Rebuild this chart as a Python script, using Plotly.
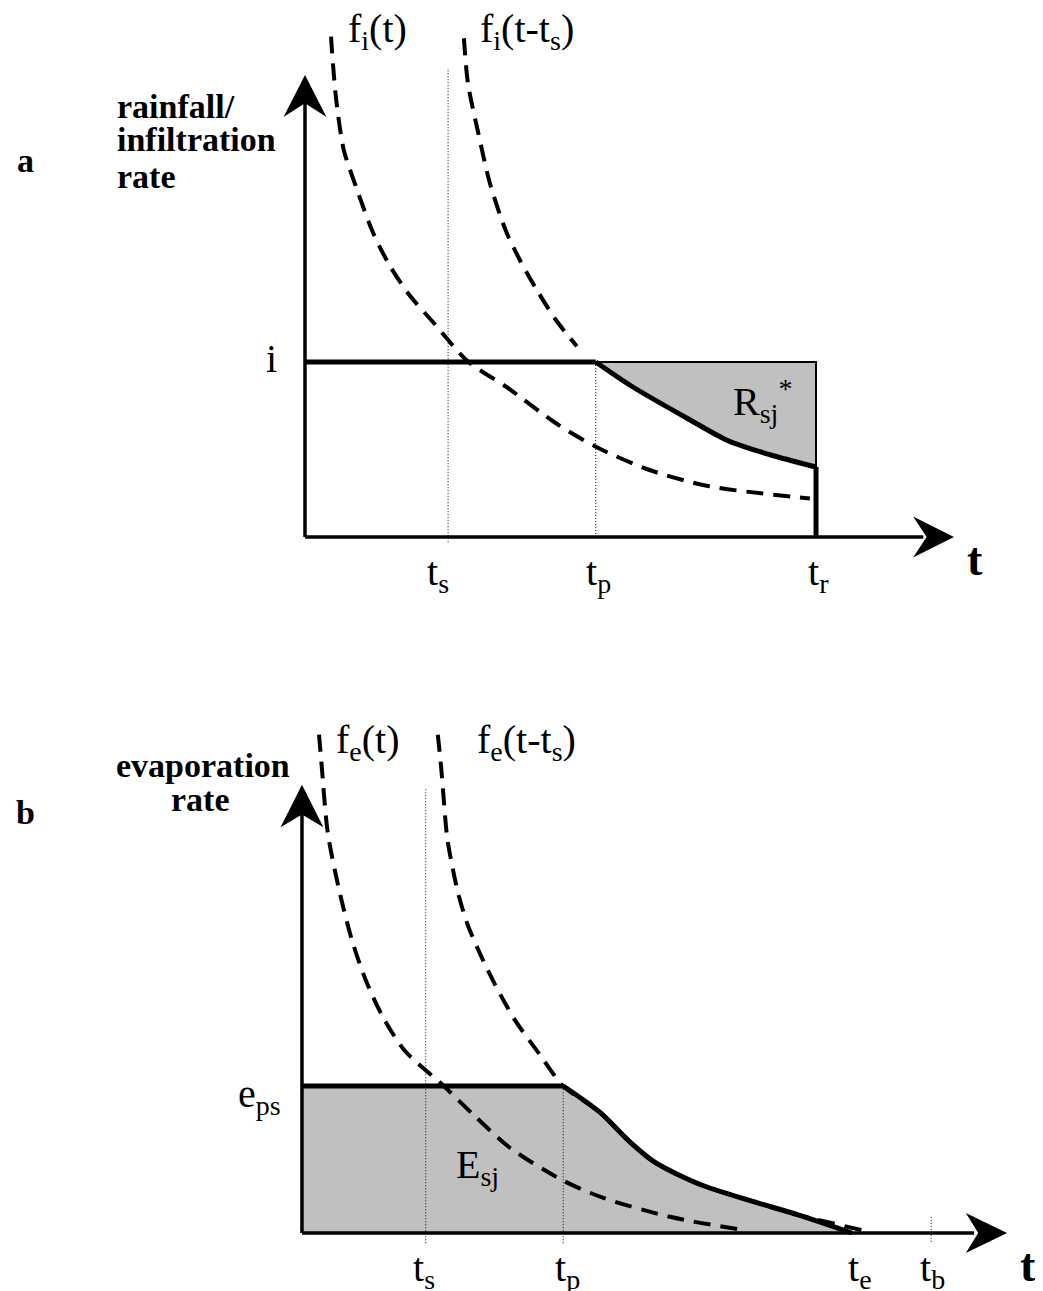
import plotly.graph_objects as go

# ---------------- Panel a : rainfall / infiltration rate ----------------
A_TICK_NAMES = ["t<sub>s</sub>", "t<sub>p</sub>", "t<sub>r</sub>"]
A_TICK_VALUES = [2.80, 5.69, 10.0]          # t_s, t_p, t_r
I_RATE = 1.0                                 # rainfall intensity i
# f_i(t) infiltration capacity curve
FI_T = [0.51, 0.53, 0.61, 0.76, 1.00, 1.33, 1.66, 2.05, 2.50, 3.20, 3.93, 4.91, 5.73, 6.77, 7.91, 9.88]
FI_R = [2.86, 2.77, 2.50, 2.21, 2.00, 1.74, 1.55, 1.38, 1.23, 1.00, 0.86, 0.65, 0.51, 0.38, 0.29, 0.22]
# f_i(t - t_s) shifted curve (drawn until ponding)
FIS_T = [3.11, 3.19, 3.39, 3.62, 3.93, 4.21, 4.54, 4.91, 5.32]
FIS_R = [2.85, 2.59, 2.31, 2.02, 1.75, 1.58, 1.41, 1.24, 1.09]
# actual infiltration after ponding (t_p -> t_r)
INF_T = [5.69, 6.40, 7.53, 8.28, 9.10, 10.0]
INF_R = [1.00, 0.86, 0.67, 0.55, 0.47, 0.40]
A_AXIS_X_END = 12.70
A_AXIS_Y_END = 2.64

# ---------------- Panel b : evaporation rate ----------------
B_TICK_NAMES = ["t<sub>s</sub>", "t<sub>p</sub>", "t<sub>e</sub>", "t<sub>b</sub>"]
B_TICK_VALUES = [2.25, 4.75, 10.0, 11.44]    # t_s, t_p, t_e, t_b
E_PS = 1.0
FE_T = [0.31, 0.36, 0.47, 0.69, 0.91, 1.16, 1.47, 1.87, 2.55, 3.13, 3.78, 4.73, 5.47, 6.69, 8.02]
FE_R = [3.39, 3.17, 2.72, 2.31, 1.99, 1.72, 1.47, 1.24, 1.01, 0.80, 0.58, 0.36, 0.24, 0.11, 0.02]
FES_T = [2.47, 2.53, 2.64, 2.73, 2.84, 3.00, 3.20, 3.51, 3.87, 4.33, 4.75, 5.42, 5.96, 6.42, 7.24, 8.15, 9.05, 10.18]
FES_R = [3.39, 3.17, 2.69, 2.50, 2.31, 2.11, 1.93, 1.69, 1.45, 1.21, 1.00, 0.82, 0.62, 0.48, 0.33, 0.22, 0.12, 0.02]
EV_T = [4.75, 5.42, 5.96, 6.42, 7.24, 8.15, 9.05, 10.0]
EV_R = [1.00, 0.82, 0.62, 0.48, 0.33, 0.22, 0.12, 0.0]
B_AXIS_X_END = 12.82
B_AXIS_Y_END = 3.05

SERIF = "Liberation Serif, Times New Roman, Times, Nimbus Roman, serif"
GREY = "#c0c0c0"
BLACK = "#000000"

fig = go.Figure()


def add_line(xs, ys, ax, width, dash="solid", shape="linear"):
    fig.add_trace(go.Scatter(x=xs, y=ys, mode="lines", xaxis=ax[0], yaxis=ax[1],
                             line=dict(color=BLACK, width=width, dash=dash, shape=shape,
                                       smoothing=0.8),
                             hoverinfo="skip", showlegend=False))


def add_poly(xs, ys, ax, color, lw=0, shape="linear"):
    fig.add_trace(go.Scatter(x=xs, y=ys, mode="lines", fill="toself", fillcolor=color,
                             xaxis=ax[0], yaxis=ax[1],
                             line=dict(color=color if lw == 0 else BLACK, width=lw, shape=shape,
                                       smoothing=0.8),
                             hoverinfo="skip", showlegend=False))


def arrows(ax, x_end, y_end, xlen, xhw, ylen, yhw, notch):
    # arrow on the t axis
    add_poly([x_end, x_end - xlen, x_end - xlen * (1 - notch), x_end - xlen, x_end],
             [0, xhw, 0, -xhw, 0], ax, BLACK)
    # arrow on the rate axis
    add_poly([0, yhw, 0, -yhw, 0],
             [y_end, y_end - ylen, y_end - ylen * (1 - notch), y_end - ylen, y_end], ax, BLACK)


DASH = "17px,10px"
DOT = "1px,2px"

# ---------------- panel a ----------------
AX_A = ("x", "y")
ts_a, tp_a, tr_a = A_TICK_VALUES
# shaded excess-rainfall area
add_poly([tp_a, tr_a] + INF_T[::-1], [I_RATE, I_RATE] + INF_R[::-1], AX_A, GREY)
add_line([tp_a, tr_a, tr_a], [I_RATE, I_RATE, INF_R[-1]], AX_A, 2)
# dotted markers
add_line([ts_a, ts_a], [-0.03, 2.68], AX_A, 1, DOT)
add_line([tp_a, tp_a], [0, I_RATE], AX_A, 1, DOT)
# dashed capacity curves
add_line(FI_T, FI_R, AX_A, 4, DASH, "spline")
add_line(FIS_T, FIS_R, AX_A, 4, DASH, "spline")
# infiltration (solid)
add_line([0, tp_a], [I_RATE, I_RATE], AX_A, 5)
add_line(INF_T, INF_R, AX_A, 5, "solid", "spline")
add_line([tr_a, tr_a], [INF_R[-1], 0], AX_A, 5)
# axes
add_line([0, A_AXIS_X_END - 0.6], [0, 0], AX_A, 3.5)
add_line([0, 0], [0, A_AXIS_Y_END - 0.15], AX_A, 3.5)
arrows(AX_A, A_AXIS_X_END, A_AXIS_Y_END, 0.80, 0.117, 0.24, 0.42, 0.33)

# ---------------- panel b ----------------
AX_B = ("x2", "y2")
ts_b, tp_b, te_b, tb_b = B_TICK_VALUES
add_poly([0, 0, tp_b] + EV_T + [0], [0, E_PS, E_PS] + EV_R + [0], AX_B, GREY)
add_line([ts_b, ts_b], [-0.07, 3.03], AX_B, 1, DOT)
add_line([tp_b, tp_b], [-0.07, E_PS], AX_B, 1, DOT)
add_line([tb_b, tb_b], [-0.06, 0.11], AX_B, 1, DOT)
add_line(FE_T, FE_R, AX_B, 4, DASH, "spline")
add_line(FES_T, FES_R, AX_B, 4, DASH, "spline")
add_line([0, tp_b], [E_PS, E_PS], AX_B, 5)
add_line(EV_T, EV_R, AX_B, 5, "solid", "spline")
add_line([0, B_AXIS_X_END - 0.6], [0, 0], AX_B, 3.5)
add_line([0, 0], [0, B_AXIS_Y_END - 0.2], AX_B, 3.5)
arrows(AX_B, B_AXIS_X_END, B_AXIS_Y_END, 0.75, 0.136, 0.29, 0.39, 0.30)

# ---------------- text ----------------
ann = []


def txt(text, x, y, ax, size=40, bold=False, xanchor="center", xshift=0, yshift=0):
    ann.append(dict(text=("<b>%s</b>" % text) if bold else text, x=x, y=y,
                    xref=ax[0], yref=ax[1], showarrow=False, xanchor=xanchor, yanchor="middle",
                    xshift=xshift, yshift=yshift,
                    font=dict(family=SERIF, size=size, color=BLACK)))


# panel a texts
txt("a", -5.46, 2.15, AX_A, 34, True)
txt("rainfall/", -3.72, 2.46, AX_A, 34, True, "left")
txt("infiltration", -3.72, 2.27, AX_A, 34, True, "left")
txt("rate", -3.72, 2.06, AX_A, 34, True, "left")
txt("f<sub>i</sub>(t)", 1.41, 2.89, AX_A)
txt("f<sub>i</sub>(t-t<sub>s</sub>)", 4.34, 2.89, AX_A)
txt("i", -0.65, I_RATE, AX_A, xshift=0, yshift=4)
txt("R<sub>sj</sub><sup>*</sup>", 8.96, 0.78, AX_A)
for name, val, dx in zip(A_TICK_NAMES, A_TICK_VALUES, [-10, 3, 2]):
    txt(name, val, -0.21, AX_A, xshift=dx)
txt("t", 13.11, -0.13, AX_A, 46, True)

# panel b texts
txt("b", -5.02, 2.86, AX_B, 34, True)
txt("evaporation", -1.80, 3.18, AX_B, 34, True)
txt("rate", -1.84, 2.95, AX_B, 34, True)
txt("f<sub>e</sub>(t)", 1.20, 3.34, AX_B)
txt("f<sub>e</sub>(t-t<sub>s</sub>)", 4.09, 3.34, AX_B)
txt("e<sub>ps</sub>", -0.78, 0.93, AX_B)
txt("E<sub>sj</sub>", 3.20, 0.45, AX_B)
for name, val, dx in zip(B_TICK_NAMES, B_TICK_VALUES, [-2, 4, 8, 1]):
    txt(name, val, -0.25, AX_B, xshift=dx)
txt("t", 13.20, -0.22, AX_B, 46, True)

# The page places the figure 8 px in from the top-left, so the figure is 8 px smaller
hidden = dict(visible=False, showgrid=False, zeroline=False, fixedrange=True)
FIG_W, FIG_H = 1035, 1283
SPLIT = 1 - 642 / FIG_H
fig.update_layout(
    width=FIG_W, height=FIG_H,
    margin=dict(l=0, r=0, t=0, b=0),
    paper_bgcolor="white", plot_bgcolor="rgba(0,0,0,0)",
    showlegend=False,
    annotations=ann,
    xaxis=dict(domain=[0, 1], range=[-5.812, 14.442], anchor="y", **hidden),
    yaxis=dict(domain=[SPLIT, 1], range=[-0.6457, 3.0229], anchor="x", **hidden),
    xaxis2=dict(domain=[0, 1], range=[-5.345, 13.473], anchor="y2", **hidden),
    yaxis2=dict(domain=[0, SPLIT], range=[-0.3946, 3.966], anchor="x2", **hidden),
)

fig.write_html("out.html")
